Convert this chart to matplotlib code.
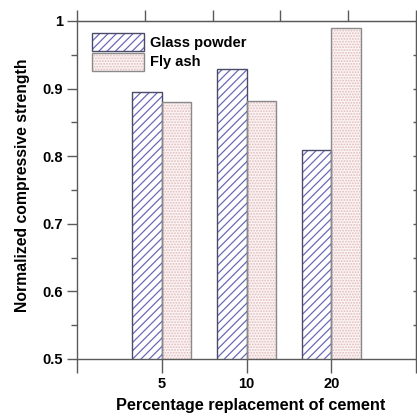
import matplotlib
matplotlib.use("Agg")
import matplotlib.pyplot as plt
import numpy as np
from matplotlib.patches import Patch
from matplotlib.legend_handler import HandlerTuple

categories = ["5", "10", "20"]
glass_powder = [0.895, 0.929, 0.809]
fly_ash = [0.880, 0.882, 0.989]

plt.rcParams['font.family'] = ['Liberation Sans', 'DejaVu Sans']
plt.rcParams['font.weight'] = 'bold'
plt.rcParams['hatch.linewidth'] = 0.9

spine_col = '#5a5a5a'
g_hatch = '#6a6ab8'
g_edge = '#4a4a6a'
f_face = '#fcf4f4'
f_hatch = '#e0bcbc'
f_edge = '#8a8a8a'
g_pat = '////'
f_pat = '......'

fig = plt.figure(figsize=(4.17, 4.17), dpi=100)
ax = fig.add_axes([77/417, 1-359/417, (416-77)/417, (359-21)/417])

x = np.arange(1, len(categories) + 1)
w = 0.35
ax.bar(x - w/2, glass_powder, w, facecolor='white', edgecolor=g_hatch, hatch=g_pat, linewidth=0, zorder=2)
ax.bar(x - w/2, glass_powder, w, fill=False, edgecolor=g_edge, linewidth=1.0, zorder=3)
ax.bar(x + w/2, fly_ash, w, facecolor=f_face, edgecolor=f_hatch, hatch=f_pat, linewidth=0, zorder=2)
ax.bar(x + w/2, fly_ash, w, fill=False, edgecolor=f_edge, linewidth=1.0, zorder=3)

ax.set_xlim(0, 4)
ax.set_ylim(0.5, 1.0)

ax.set_xticks([0, 1, 2, 3, 4])
ax.set_xticklabels([''] + categories + [''])
ax.set_yticks([0.5, 0.6, 0.7, 0.8, 0.9, 1.0])
ax.set_yticklabels(['0.5', '0.6', '0.7', '0.8', '0.9', '1'])
ax.set_yticks(np.arange(0.55, 1.0, 0.1), minor=True)
ax.tick_params(axis='x', direction='out', length=10, width=1, color=spine_col, labelsize=10.5, pad=3)
ax.tick_params(axis='y', which='major', direction='out', length=7, width=1, color=spine_col, labelsize=10.5, pad=3)
ax.tick_params(axis='y', which='minor', direction='out', length=4, width=1, color=spine_col)

for s in ax.spines.values():
    s.set_color(spine_col)
    s.set_linewidth(1.0)

top = ax.secondary_xaxis('top')
top.set_xticks(np.linspace(0, 4, 6))
top.set_xticklabels([])
top.tick_params(direction='out', length=8, width=1, color=spine_col)
top.spines['top'].set_color(spine_col)

right = ax.secondary_yaxis('right')
right.set_yticks(np.arange(0.55, 1.0, 0.05))
right.set_yticklabels([])
right.tick_params(direction='in', length=2.5, width=1, color=spine_col)
right.spines['right'].set_color(spine_col)

ax.set_xlabel('Percentage replacement of cement', fontsize=11.7, fontweight='bold')
ax.set_ylabel('Normalized compressive strength', fontsize=11.3, fontweight='bold')
ax.xaxis.set_label_coords(0.513, -0.116)
ax.yaxis.set_label_coords(-0.14, 0.515)

h1 = (Patch(facecolor='white', edgecolor=g_hatch, hatch=g_pat, linewidth=0),
      Patch(fill=False, edgecolor=g_edge, linewidth=1.0))
h2 = (Patch(facecolor=f_face, edgecolor=f_hatch, hatch=f_pat, linewidth=0),
      Patch(fill=False, edgecolor=f_edge, linewidth=1.0))
ax.legend([h1, h2], ['Glass powder', 'Fly ash'], handler_map={tuple: HandlerTuple(ndivide=1, pad=0)},
          loc='upper left', bbox_to_anchor=(0.044, 0.965), frameon=False, borderpad=0,
          borderaxespad=0, handlelength=3.57, handleheight=1.52, labelspacing=0.12,
          handletextpad=0.4, prop={'size': 10.5, 'weight': 'bold'})

fig.savefig('out.png', dpi=100)
